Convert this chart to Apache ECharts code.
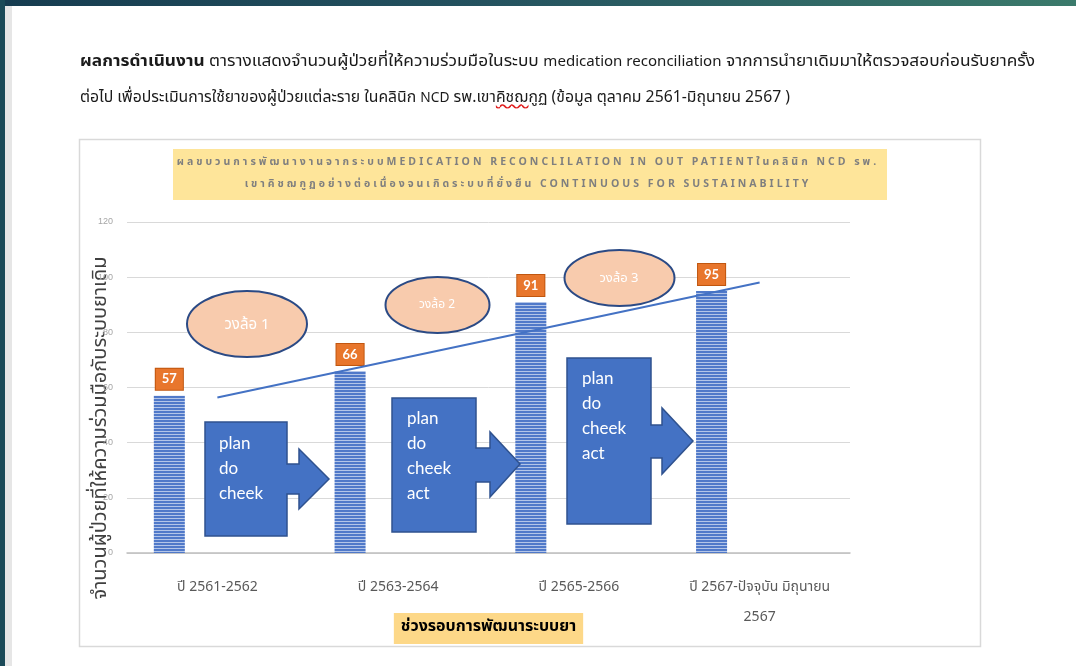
<!DOCTYPE html>
<html>
<head>
<meta charset="utf-8">
<script src="https://cdn.jsdelivr.net/npm/echarts@6/dist/echarts.min.js"></script>
<style>
  html, body { margin:0; padding:0; width:1076px; height:666px; background:#ffffff; overflow:hidden; }
  #topband { position:absolute; left:0; top:0; width:1076px; height:6px; background:linear-gradient(90deg,#163c50 0%,#24525f 45%,#3b7a6b 100%); z-index:5; }
  #leftband { position:absolute; left:0; top:0; width:5px; height:666px; background:#1b4a58; z-index:5; }
  #leftstrip { position:absolute; left:5px; top:6px; width:7px; height:660px; background:#e6e6e6; z-index:5; }
  #para { position:absolute; left:80px; top:44px; font-family:Tahoma,"Noto Sans Thai","Noto Sans",sans-serif; font-size:15.5px; line-height:35px; color:#1a1a1a; z-index:4; }
  #para .ln { white-space:nowrap; display:inline-block; transform-origin:0 50%; }
  #para .sm { font-size:13.5px; }
  #para .sq { text-decoration: underline wavy #e02020; }
  #chart { position:absolute; left:0; top:0; width:1076px; height:666px; }
</style>
</head>
<body>
<div id="chart"></div>
<div id="topband"></div>
<div id="leftband"></div>
<div id="leftstrip"></div>
<div id="para">
  <div><span class="ln" data-w="955"><b>ผลการดำเนินงาน</b> ตารางแสดงจำนวนผู้ป่วยที่ให้ความร่วมมือในระบบ <span class="sm">medication reconciliation</span> จากการนำยาเดิมมาให้ตรวจสอบก่อนรับยาครั้ง</span></div>
  <div><span class="ln" data-w="710">ต่อไป เพื่อประเมินการใช้ยาของผู้ป่วยแต่ละราย ในคลินิก <span class="sm">NCD</span> รพ.เขา<span class="sq">คิชฌ</span>กูฏ (ข้อมูล ตุลาคม 2561-มิถุนายน 2567 )</span></div>
</div>
<script>
// ---- data ----
var categories = ['ปี 2561-2562', 'ปี 2563-2564', 'ปี 2565-2566', 'ปี 2567-ปัจจุบัน มิถุนายน\n2567'];
var patients = [57, 66, 91, 95];
var trendEnds = [[0, 56.4], [3, 98.1]];
var yTicks = { min: 0, max: 120, interval: 20 };
var chartTitle = 'ผลขบวนการพัฒนางานจากระบบMEDICATION RECONCLILATION IN OUT PATIENTในคลินิก NCD รพ.\nเขาคิชฌกูฏอย่างต่อเนื่องจนเกิดระบบที่ยั่งยืน CONTINUOUS FOR SUSTAINABILITY';
var yName = 'จำนวนผู้ป่วยที่ให้ความร่วมมือกับระบบยาเดิม';
var xName = 'ช่วงรอบการพัฒนาระบบยา';
var cycleNames = ['วงล้อ 1', 'วงล้อ 2', 'วงล้อ 3'];
var pdcaTexts = ['plan\ndo\ncheek', 'plan\ndo\ncheek\nact', 'plan\ndo\ncheek\nact'];

// fit paragraph lines to the reference widths
document.querySelectorAll('#para .ln').forEach(function(el){
  var w = el.getBoundingClientRect().width;
  var t = parseFloat(el.getAttribute('data-w'));
  if (w > 0) el.style.transform = 'scaleX(' + (t / w) + ')';
});

// letter spacing for the title text only (canvas letterSpacing, if supported)
(function(){
  var P = CanvasRenderingContext2D.prototype;
  var orig = P.fillText;
  P.fillText = function(t, x, y, w){
    if ('letterSpacing' in this) {
      this.letterSpacing = (this.font && this.font.indexOf('10.5px') >= 0) ? '3px' : '0px';
    }
    var r = (w === undefined) ? orig.call(this, t, x, y) : orig.call(this, t, x, y, w);
    if ('letterSpacing' in this) this.letterSpacing = '0px';
    return r;
  };
})();

// stripe pattern for bars
var pc = document.createElement('canvas');
pc.width = 4; pc.height = 3;
var pctx = pc.getContext('2d');
pctx.fillStyle = '#5079c9'; pctx.fillRect(0,0,4,2);
pctx.fillStyle = '#b3c5e8'; pctx.fillRect(0,2,4,1);

var thaiFont = 'Tahoma, "Noto Sans Thai", "Noto Sans", sans-serif';
var calloutFont = 'Lato, "Open Sans", sans-serif';

function callout(pts) {
  return { type:'polygon', z:10, shape:{ points: pts }, style:{ fill:'#4472c4', stroke:'#2f528f', lineWidth:1.5 } };
}
function ell(cx, cy, rx, ry) {
  return { type:'ellipse', z:10, shape:{ cx:cx, cy:cy, rx:rx, ry:ry }, style:{ fill:'#f8cbad', stroke:'#2b4a85', lineWidth:2 } };
}
function txt(x, y, s, size, align, lh, font) {
  return { type:'text', z:11, x:x, y:y, style:{ text:s, fill:'#ffffff', fontSize:size, fontFamily:font, align:align, verticalAlign:'top', lineHeight:lh } };
}

var chart = echarts.init(document.getElementById('chart'), null, { renderer:'canvas' });
chart.setOption({
  animation:false,
  backgroundColor:'#ffffff',
  title:{
    text: chartTitle,
    left: 528, top: 152, textAlign:'center', padding:0,
    textStyle:{ fontSize:10.5, fontWeight:'bold', color:'#7f7f7f', lineHeight:22, fontFamily:thaiFont }
  },
  grid:{ left:127, right:226, top:222, bottom:113, containLabel:false },
  xAxis:{
    type:'category', data:categories,
    axisLine:{ lineStyle:{ color:'#bfbfbf', width:1.5 } },
    axisTick:{ show:false },
    axisLabel:{ interval:0, color:'#595959', fontSize:14, margin:20, lineHeight:30, fontFamily:thaiFont },
    name:xName, nameLocation:'middle', nameGap:60, nameMoveOverlap:false,
    nameTextStyle:{ color:'#000000', fontWeight:'bold', fontSize:16, fontFamily:thaiFont, backgroundColor:'#fdd888', padding:[7,7,8,7] }
  },
  yAxis:{
    type:'value', min:yTicks.min, max:yTicks.max, interval:yTicks.interval,
    axisLine:{ show:false }, axisTick:{ show:false },
    splitLine:{ lineStyle:{ color:'#d9d9d9', width:1 } },
    axisLabel:{ color:'#a6a6a6', fontSize:9, margin:14 },
    name:'{a|' + yName + '}{b| }', nameLocation:'middle', nameGap:8, nameRotate:90, nameMoveOverlap:false,
    nameTextStyle:{
      rich:{
        a:{ color:'#404040', fontSize:20, fontFamily:thaiFont, backgroundColor:'#ffffff', padding:[0,2,8,2], lineHeight:26 },
        b:{ width:81, fontSize:20, lineHeight:26 }
      }
    }
  },
  series:[
    {
      type:'bar', name:'patients', data:patients, barWidth:31, barGap:'210%', z:2,
      itemStyle:{ color:{ image:pc, repeat:'repeat' } },
      label:{ show:true, position:'top', distance:6, color:'#ffffff', fontWeight:'bold', fontSize:13,
        backgroundColor:'#e8762c', borderColor:'#c0560f', borderWidth:1, padding:[4,6,4,6], fontFamily:calloutFont }
    },
    { type:'bar', name:'spacer', data:[], barWidth:31, silent:true },
    {
      type:'line', name:'trend', data:trendEnds, symbol:'none', z:5,
      lineStyle:{ color:'#4472c4', width:2 }
    }
  ],
  graphic:[
    { type:'rect', z:-1, shape:{ x:79.5, y:139.5, width:901, height:507 }, style:{ fill:'#ffffff', stroke:'#d9d9d9', lineWidth:1.5 } },
    { type:'rect', z:-1, shape:{ x:173, y:149, width:714, height:51 }, style:{ fill:'#fee59a' } },
    ell(247, 324, 60, 33), ell(437.5, 305, 52, 28), ell(619.5, 278, 55, 28),
    { type:'text', z:11, x:247, y:326, style:{ text:cycleNames[0], fill:'#ffffff', fontSize:15, fontFamily:thaiFont, align:'center', verticalAlign:'middle' } },
    { type:'text', z:11, x:437, y:306, style:{ text:cycleNames[1], fill:'#ffffff', fontSize:12, fontFamily:thaiFont, align:'center', verticalAlign:'middle' } },
    { type:'text', z:11, x:619, y:279, style:{ text:cycleNames[2], fill:'#ffffff', fontSize:13, fontFamily:thaiFont, align:'center', verticalAlign:'middle' } },
    callout([[205,422],[287,422],[287,464],[299,464],[299,449],[329,479],[299,509],[299,494],[287,494],[287,536],[205,536]]),
    callout([[392,398],[476,398],[476,448],[490,448],[490,432],[520,464],[490,497],[490,482],[476,482],[476,532],[392,532]]),
    callout([[567,358],[651,358],[651,425],[662,425],[662,408],[693,441],[662,474],[662,458],[651,458],[651,524],[567,524]]),
    txt(219, 431, pdcaTexts[0], 17, 'left', 25, calloutFont),
    txt(407, 406, pdcaTexts[1], 17, 'left', 25, calloutFont),
    txt(582, 366, pdcaTexts[2], 17, 'left', 25, calloutFont)
  ]
});
</script>
</body>
</html>
